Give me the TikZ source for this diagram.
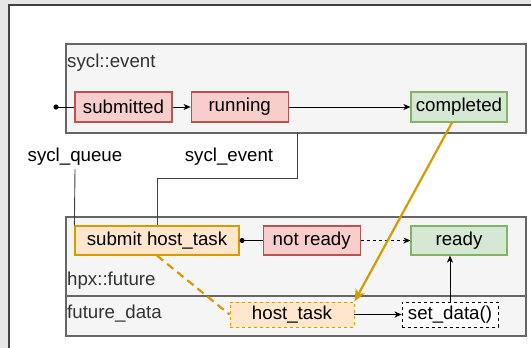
\documentclass[tikz,border=0pt]{standalone}
\usepackage{fontspec}
\setmainfont{Liberation Sans}
\usetikzlibrary{positioning,arrows.meta}

\definecolor{redfill}{HTML}{F8CECC}
\definecolor{redline}{HTML}{B85450}
\definecolor{greenfill}{HTML}{D5E8D4}
\definecolor{greenline}{HTML}{82B366}
\definecolor{orangefill}{HTML}{FFE6CC}
\definecolor{orangeline}{HTML}{D79B00}
\definecolor{groupfill}{HTML}{F5F5F5}
\definecolor{groupline}{HTML}{666666}
\definecolor{pagegrey}{HTML}{E6E6E6}

\tikzset{
  state/.style = {draw, line width=1.2pt, minimum height=30, minimum width=97, inner sep=0pt},
  redstate/.style = {state, fill=redfill, draw=redline},
  greenstate/.style = {state, fill=greenfill, draw=greenline},
  orangestate/.style = {state, fill=orangefill, draw=orangeline},
  group/.style = {draw=groupline, fill=groupfill, line width=2.4pt, minimum width=460, anchor=north west, inner sep=0pt},
  grouplabel/.style = {anchor=west, inner sep=0pt, text=black!80},
  link/.style = {line width=0.9pt, -{Stealth[length=7pt,width=6pt,inset=2pt]}},
}

\begin{document}
\begin{tikzpicture}[x=1pt, y=-1pt, every node/.style={font=\fontsize{18.7}{22}\selectfont}]
  \useasboundingbox (0,0) rectangle (531,348);
  \fill[pagegrey] (0,0) rectangle (531,348);
  \draw[fill=white, draw=black!75, line width=1.3pt] (9,5) rectangle (560,370);

  % containers
  \node[group, minimum height=89] (event) at (65,43) {};
  \node[group, minimum height=79] (future) at (65,216) {};
  \node[group, minimum height=40] (fdata) at (65,295) {};
  \node[grouplabel] (eventlbl) at (67,63) {sycl::event};
  \node[grouplabel] (futurelbl) at (67,281) {hpx::future};
  \node[grouplabel] (fdatalbl) at (67,314) {future\_data};

  % sycl::event states
  \node[redstate] (submitted) at (123.5,107) {submitted};
  \node[redstate, right=18 of submitted] (running) {running};
  \node[greenstate, minimum width=96] (completed) at (459,107) {completed};
  \coordinate (entry) at (56,107);
  \fill (entry) circle (2.6);

  % hpx::future states
  \node[orangestate, minimum width=164, minimum height=29] (submit) at (157,240.5) {submit host\_task};
  \node[redstate, minimum height=29, right=23 of submit] (notready) {not ready};
  \node[greenstate, minimum width=96, minimum height=29] (ready) at (completed |- notready) {ready};

  % future_data
  \node[orangestate, dashed, line width=0.9pt, minimum width=124, minimum height=25] (host) at (292,314.5) {host\_task};
  \node[state, dashed, fill=white, line width=0.9pt, minimum width=96, minimum height=25] (setdata) at (450,314.5) {set\_data()};

  % queue and event handles
  \node (queuelbl) at (75,157) {sycl\_queue};
  \node (eventhandle) at (229,157) {sycl\_event};
  \coordinate (evout) at (297,132);

  \draw[line width=0.9pt] (entry) -- (submitted);
  \draw[link] (submitted) -- (running);
  \draw[link] (running) -- (completed);
  \draw[line width=0.9pt, draw=black!75] (queuelbl.south) -- (submit.north west);
  \draw[line width=0.9pt, draw=black!75] (evout) -- ++(0,46) -| (submit.north);
  \draw[line width=0.9pt, -{Circle[length=5pt]}] (notready) -- (submit);
  \draw[link, dash pattern=on 3pt off 3pt] (notready) -- (ready);
  \draw[link] (host) -- (setdata);
  \draw[link] (setdata) -- (setdata |- ready.south);
  \draw[draw=orangeline, line width=2.2pt, -{Stealth[length=12pt,width=10pt,inset=3pt]}] ([xshift=-7]completed.south) -- (host.north east);
  \draw[draw=orangeline, line width=2.2pt, dash pattern=on 8pt off 5pt] (submit.south) -- (host.west);
\end{tikzpicture}
\end{document}
